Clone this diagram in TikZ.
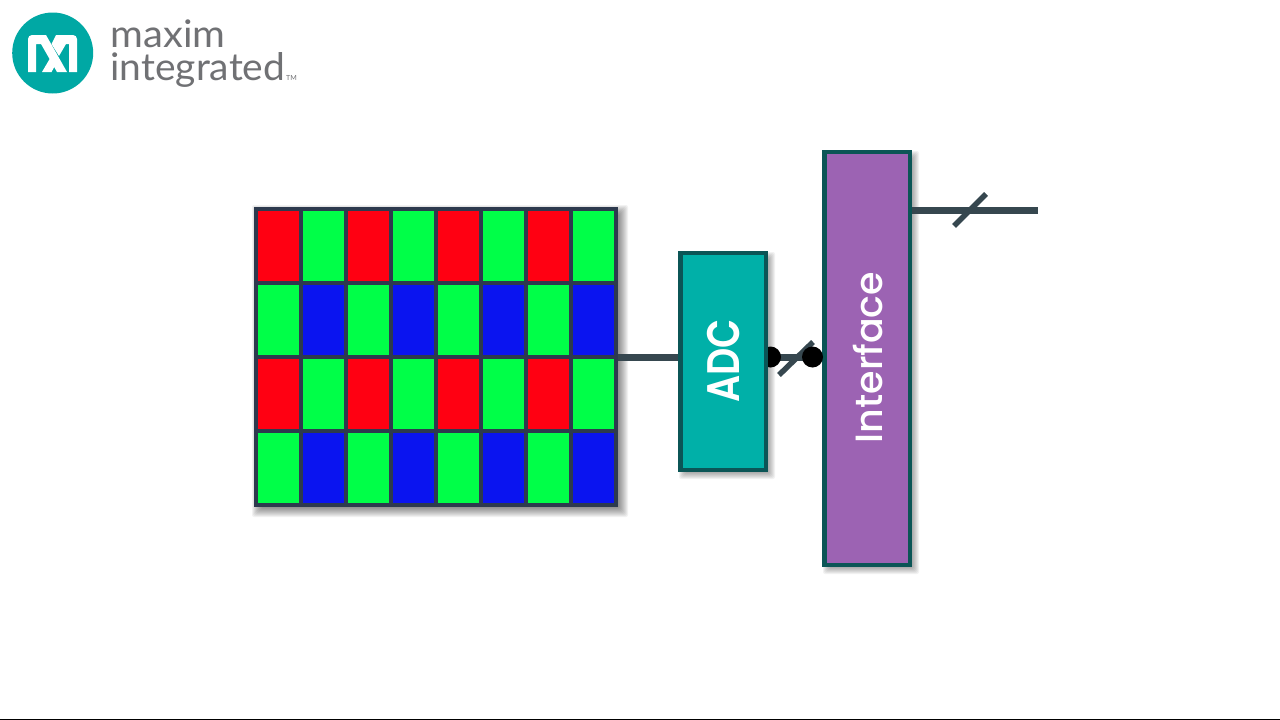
\documentclass[tikz,border=0pt]{standalone}
\usepackage{fontspec}
\setmainfont{Lato}
\newfontfamily\lab{Poppins Medium}
\newfontfamily\labb{Poppins SemiBold}
\pgfdeclarelayer{top}
\pgfsetlayers{main,top}
\definecolor{gridline}{HTML}{2D3A4E}
\definecolor{cred}{HTML}{FF0012}
\definecolor{cgreen}{HTML}{00FF48}
\definecolor{cblue}{HTML}{0A14F0}
\definecolor{wire}{HTML}{36474F}
\definecolor{boxedge}{HTML}{0B5556}
\definecolor{adcfill}{HTML}{00B0A8}
\definecolor{ifill}{HTML}{9C63B3}
\definecolor{logoteal}{HTML}{00A8A4}
\definecolor{logotext}{HTML}{707174}
\tikzset{
  x=1pt,y=-1pt,
  cell/.style={draw=gridline,line width=4.5pt,minimum width=45pt,minimum height=74pt,outer sep=0pt,inner sep=0pt},
  blockbox/.style={draw=boxedge,line width=4.5pt,minimum width=85.5pt,outer sep=0pt,inner sep=0pt,text=white},
  wireline/.style={draw=wire,line width=7pt},
  slash/.style={draw=wire,line width=5.5pt},
  dotnode/.style={circle,fill=black,minimum size=21pt,inner sep=0pt,outer sep=0pt},
  logoword/.style={text=logotext,anchor=base west,inner sep=0pt,outer sep=0pt,font=\fontsize{38}{30}\selectfont},
  logomark/.style={fill=white,draw=none},
}
\newcommand{\softshadow}[5]{%
  \foreach \g in {0,...,#5}{
    \fill[black,opacity=0.05,rounded corners=2pt] ({#1+6-\g},{#2+6-\g}) rectangle ({#3+\g+2},{#4+\g+2});
  }}
\begin{document}
\begin{tikzpicture}
\useasboundingbox (0,0) rectangle (1280,720);
\fill[white] (0,0) rectangle (1280,720);
\fill[black] (0,718.5) rectangle (1280,720);
% logo
\node[circle,fill=logoteal,minimum size=81pt,inner sep=0pt] (logo) at (52.7,53) {};
\fill[logomark] (28,72) -- (28,39) arc[start angle=180,end angle=90,radius=4pt] -- (46,35) -- (67,72) -- (57,72) -- (41,44) -- (36,44) -- (36,72) -- cycle;
\fill[logomark] (56,35) -- (73,35) arc[start angle=90,end angle=0,radius=4pt] -- (77,72) -- (69,72) -- (69,44) -- (66,44) -- (59,56) -- (51.5,44) -- cycle;
\fill[logomark] (52,55) -- (56.5,63) -- (51.5,72) -- (42,72) -- cycle;
\node[logoword,xscale=1.05] (w1) at (110.5,47) {maxim};
\node[logoword,xscale=1.025] (w2) at (110.5,80) {integrated};
\node[text=logotext,anchor=base west,inner sep=0pt,font=\fontsize{7}{7}\selectfont] (tm) at (286,80) {TM};
% shadows
\softshadow{255}{208}{617}{506}{9}
\softshadow{679}{252}{767}{471}{6}
\softshadow{823}{151}{911}{566}{6}
% sensor frame
\node[minimum width=360pt,minimum height=296pt,outer sep=2pt,inner sep=0pt] (sensor) at (436,357) {};
\foreach \c in {0,...,7}{
  \foreach \r in {0,...,3}{
    \pgfmathtruncatemacro{\k}{mod(\c,2)+2*mod(\r,2)}
    \ifcase\k \def\col{cred}\or \def\col{cgreen}\or \def\col{cgreen}\or \def\col{cblue}\fi
    \node[cell,fill=\col] (c\c r\r) at ({278.5+45*\c},{246+74*\r}) {};
  }
}
% blocks and front dot, on the top layer
\begin{pgfonlayer}{top}
\node[blockbox,fill=adcfill,minimum height=217pt] (adc) at (723,361.5) {};
\node[rotate=90,text=white,font=\labb\fontsize{38}{38}\selectfont,yscale=1.2,inner sep=0pt] (adclab) at (724,361) {ADC};
\node[blockbox,fill=ifill,minimum height=413pt] (iface) at (867,358.5) {};
\node[rotate=90,text=white,font=\lab\fontsize{38}{38}\selectfont,inner sep=0pt] (ilab) at (868,357.5) {Interface};
\node[dotnode] (d2) at (812.5,357) {};
\end{pgfonlayer}
% connectors
\coordinate (outend) at (1038,210);
\coordinate (s1a) at (779,375); \coordinate (s1b) at (813,342);
\coordinate (s2a) at (954,226); \coordinate (s2b) at (986,194);
\draw[wireline] (sensor.east) -- (sensor.east -| adc.west);
\draw[wireline] (adc.east |- d2) -- (iface.west |- d2);
\draw[wireline] (iface.east |- outend) -- (outend);
\node[dotnode] (d1) at (770.5,357) {};
\draw[slash] (s1a) -- (s1b);
\draw[slash] (s2a) -- (s2b);
\end{tikzpicture}
\end{document}
